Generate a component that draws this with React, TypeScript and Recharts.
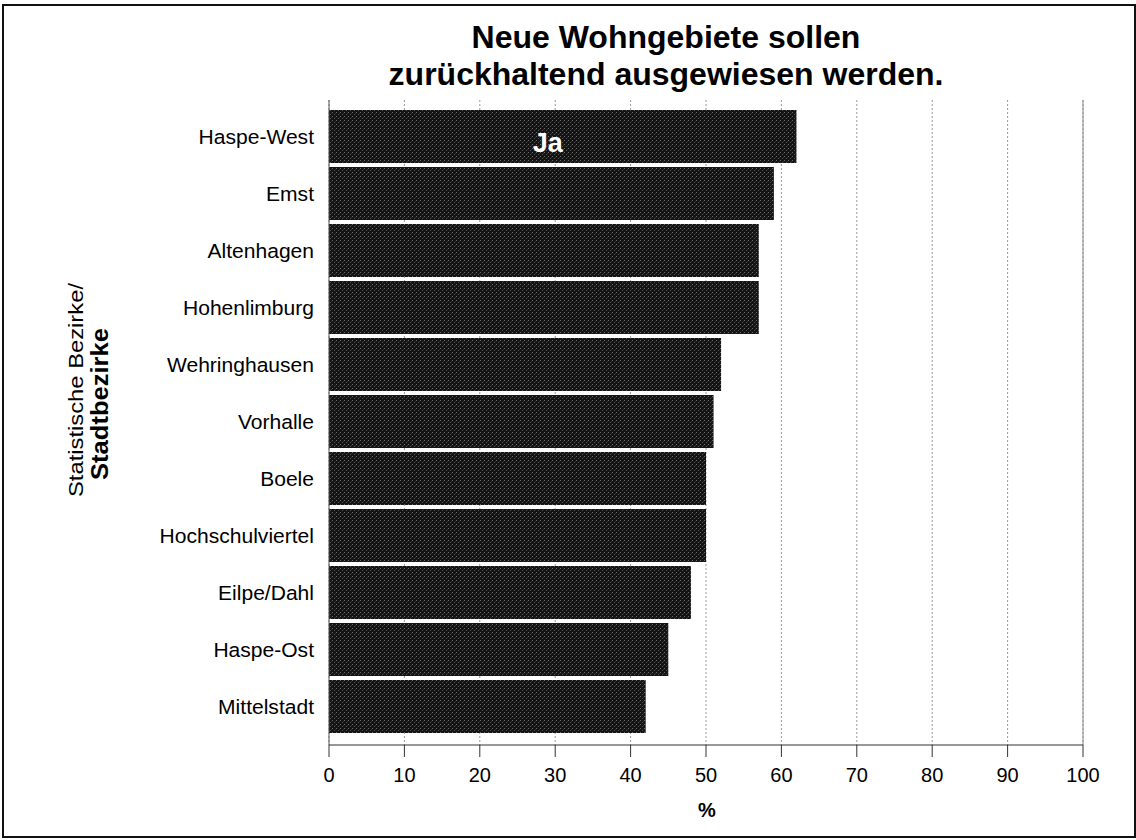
import React from "react";
import {
  BarChart,
  Bar,
  XAxis,
  YAxis,
  CartesianGrid,
  ReferenceLine,
  LabelList,
} from "recharts";

// Stadtbezirke, sorted as in the chart (top to bottom)
const districts = [
  "Haspe-West",
  "Emst",
  "Altenhagen",
  "Hohenlimburg",
  "Wehringhausen",
  "Vorhalle",
  "Boele",
  "Hochschulviertel",
  "Eilpe/Dahl",
  "Haspe-Ost",
  "Mittelstadt",
];
// share answering "Ja", in %
const jaValues = [62, 59, 57, 57, 52, 51, 50, 50, 48, 45, 42];
const xTicks = [0, 10, 20, 30, 40, 50, 60, 70, 80, 90, 100];

const data = districts.map((name, i) => ({ name, ja: jaValues[i] }));

const FONT = '"Liberation Sans", Arial, Helvetica, sans-serif';

// only the top bar carries the series name
const JaLabel = (props: any) => {
  const { x, y, width, height, index } = props;
  if (index !== 0) return null;
  return (
    <text
      x={x + (width * 29) / 62}
      y={y + height / 2 + 15}
      textAnchor="middle"
      fill="#fff"
      fontWeight="bold"
      fontSize={27}
      fontFamily={FONT}
    >
      Ja
    </text>
  );
};

// category labels are a touch wider than plain Arial in the original
const DistrictTick = (props: any) => {
  const { x, y, payload } = props;
  return (
    <text
      transform={`translate(${x},${y}) scale(1.08,1)`}
      textAnchor="end"
      dy="0.36em"
      fill="#000"
      fontSize={19.5}
      fontFamily={FONT}
    >
      {payload.value}
    </text>
  );
};

export default function App() {
  return (
    <div
      style={{
        position: "fixed",
        left: 0,
        top: 0,
        width: 1136,
        height: 840,
        background: "#fff",
        fontFamily: FONT,
      }}
    >
      <div
        style={{
          position: "absolute",
          left: 2,
          top: 4,
          width: 1130,
          height: 830,
          border: "2px solid #111",
        }}
      />
      <div
        style={{
          position: "absolute",
          left: 333,
          width: 666,
          top: 19,
          textAlign: "center",
          fontWeight: "bold",
          fontSize: 32,
          lineHeight: "37px",
          color: "#000",
        }}
      >
        Neue Wohngebiete sollen
        <br />
        zurückhaltend ausgewiesen werden.
      </div>

      <div style={{ position: "absolute", left: 0, top: 0 }}>
        <BarChart
          width={1136}
          height={840}
          layout="vertical"
          data={data}
          margin={{ top: 100, right: 53, bottom: 45, left: 0 }}
          barCategoryGap={2}
        >
          <defs>
            <pattern id="grain" width="4" height="4" patternUnits="userSpaceOnUse">
              <rect width="4" height="4" fill="#141414" />
              <rect x="0" y="0" width="1" height="1" fill="#6a6a6a" />
              <rect x="2" y="2" width="1" height="1" fill="#505050" />
              <rect x="3" y="1" width="1" height="1" fill="#2e2e2e" />
            </pattern>
          </defs>
          <CartesianGrid
            horizontal={false}
            stroke="#9a9a9a"
            strokeDasharray="2 2"
          />
          <XAxis
            type="number"
            domain={[0, 100]}
            ticks={xTicks}
            interval={0}
            height={50}
            tickSize={12}
            tickMargin={11}
            axisLine={{ stroke: "#333" }}
            tickLine={{ stroke: "#333" }}
            tick={{ fill: "#000", fontSize: 20, fontFamily: FONT }}
          />
          <XAxis
            xAxisId="top"
            type="number"
            domain={[0, 100]}
            orientation="top"
            height={0}
            tick={false}
            tickLine={false}
            axisLine={{ stroke: "#888" }}
          />
          <YAxis
            type="category"
            dataKey="name"
            width={329}
            tickLine={false}
            tickMargin={9}
            axisLine={{ stroke: "#555" }}
            padding={{ top: 8, bottom: 10 }}
            tick={<DistrictTick />}
          />
          <ReferenceLine x={100} stroke="#888" strokeDasharray="0" />
          <Bar dataKey="ja" fill="url(#grain)" isAnimationActive={false}>
            <LabelList dataKey="ja" content={JaLabel} />
          </Bar>
        </BarChart>
      </div>

      <svg
        width={1136}
        height={840}
        style={{ position: "absolute", left: 0, top: 0, pointerEvents: "none" }}
      >
        <text
          transform="translate(83 390) rotate(-90)"
          textAnchor="middle"
          fontSize={21}
          textLength={214}
          lengthAdjust="spacingAndGlyphs"
          fontFamily={FONT}
          fill="#000"
        >
          Statistische Bezirke/
        </text>
        <text
          transform="translate(108 404) rotate(-90)"
          textAnchor="middle"
          fontSize={23}
          fontWeight="bold"
          textLength={152}
          lengthAdjust="spacingAndGlyphs"
          fontFamily={FONT}
          fill="#000"
        >
          Stadtbezirke
        </text>
        <text
          x={707}
          y={817}
          textAnchor="middle"
          fontSize={20}
          fontWeight="bold"
          fontFamily={FONT}
          fill="#000"
        >
          %
        </text>
      </svg>
    </div>
  );
}
